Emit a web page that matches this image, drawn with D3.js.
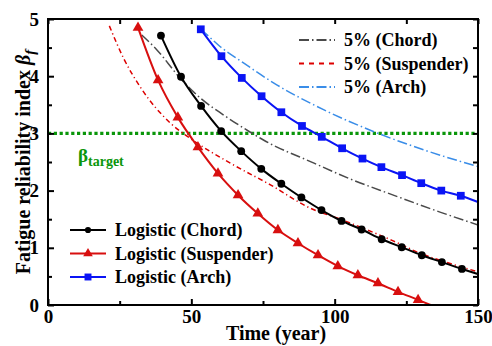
<!DOCTYPE html>
<html>
<head>
<meta charset="utf-8">
<script src="https://cdn.jsdelivr.net/npm/d3@7"></script>
<style>
  body { margin: 0; background: #fff; }
  text { font-family: "Liberation Serif", "Times New Roman", serif; font-weight: bold; }
</style>
</head>
<body>
<div id="chart"></div>
<script>
// logistic fits (markers)
var chordT = [39.4, 46.4, 53.4, 60.4, 67.4, 74.4, 81.4, 88.4, 95.4, 102.4, 109.4, 116.4, 123.4, 130.4, 137.4, 144.4, 150];
var chordB = [4.71, 3.99, 3.48, 3.04, 2.69, 2.38, 2.12, 1.88, 1.66, 1.47, 1.32, 1.15, 1.01, 0.87, 0.75, 0.63, 0.54];
var suspT = [31.4, 38.4, 45.3, 52.3, 59.3, 66.3, 73.2, 80.2, 87.2, 94.2, 101.1, 108.1, 115.1, 122.1, 129.1, 133.5];
var suspB = [4.85, 3.93, 3.28, 2.76, 2.30, 1.92, 1.60, 1.31, 1.08, 0.87, 0.68, 0.52, 0.38, 0.23, 0.09, 0];
var archT = [53.3, 60.5, 67.6, 74.5, 81.4, 88.6, 95.5, 102.6, 109.7, 116.3, 123.5, 130.2, 137.2, 144, 150];
var archB = [4.82, 4.35, 3.97, 3.65, 3.37, 3.13, 2.94, 2.74, 2.56, 2.41, 2.27, 2.13, 2.00, 1.91, 1.80];
// markers are not drawn on the last point of each line
var chordMarks = 16, suspMarks = 15, archMarks = 14;

// 5% curves
var c5T = [32.7, 38, 46.2, 53.1, 61.3, 70.6, 75.3, 92.8, 105.6, 120, 137, 150];
var c5B = [4.72, 4.46, 3.96, 3.62, 3.32, 3.02, 2.88, 2.48, 2.20, 1.93, 1.62, 1.40];
var s5T = [21.4, 26.5, 32.2, 42.7, 49.7, 63.6, 77.6, 91.6, 102, 110, 120, 130, 140, 150];
var s5B = [4.88, 4.30, 3.81, 3.18, 2.91, 2.48, 2.10, 1.69, 1.50, 1.34, 1.13, 0.90, 0.73, 0.58];
var a5T = [53.3, 56, 60, 67.1, 78.8, 96.3, 113.7, 131.2, 150];
var a5B = [4.82, 4.70, 4.52, 4.27, 3.88, 3.41, 3.03, 2.71, 2.42];

var betaTarget = 3;
var xTicks = [0, 50, 100, 150], xMinor = [25, 75, 125];
var yTicks = [0, 1, 2, 3, 4, 5], yMinor = [0.5, 1.5, 2.5, 3.5, 4.5];

var W = 492, H = 346;
var margin = { top: 19, right: 14, bottom: 41, left: 48 },
    width = W - margin.left - margin.right,
    height = H - margin.top - margin.bottom;

var svg = d3.select("#chart").append("svg")
  .attr("width", W).attr("height", H)
  .append("g")
  .attr("transform", "translate(" + margin.left + "," + margin.top + ")");

var x = d3.scaleLinear().domain([0, 150]).range([0, width]);
var y = d3.scaleLinear().domain([0, 5]).range([height, 0]);

function pts(T, B) { return T.map(function (t, i) { return [t, B[i]]; }); }
var line = d3.line().x(function (d) { return x(d[0]); }).y(function (d) { return y(d[1]); })
  .curve(d3.curveMonotoneX);

// target line
svg.append("line")
  .attr("x1", 0).attr("x2", width)
  .attr("y1", y(betaTarget)).attr("y2", y(betaTarget))
  .style("stroke", "#0a960a").style("stroke-width", 3.2)
  .style("stroke-dasharray", "3.2,2.6");

var bt = svg.append("text").attr("x", 30).attr("y", 143)
  .style("fill", "#0a960a").style("font-size", "19px").text("β");
bt.append("tspan").attr("dy", 4).style("font-size", "14px").text("target");

// 5% curves
var dashed = [
  { p: pts(c5T, c5B), color: "#4a4a4a", dash: "10,3,1.5,3" },
  { p: pts(s5T, s5B), color: "#dd0000", dash: "5,3,1.2,3" },
  { p: pts(a5T, a5B), color: "#3a8de8", dash: "10,3,1.5,3" }
];
dashed.forEach(function (s) {
  svg.append("path").attr("d", line(s.p))
    .style("fill", "none").style("stroke", s.color).style("stroke-width", 1.5)
    .style("stroke-dasharray", s.dash);
});

// logistic curves
var solid = [
  { p: pts(chordT, chordB), n: chordMarks, color: "#000000", sym: d3.symbolCircle, size: 48 },
  { p: pts(suspT, suspB), n: suspMarks, color: "#d80f0f", sym: d3.symbolTriangle, size: 50 },
  { p: pts(archT, archB), n: archMarks, color: "#0a14f5", sym: d3.symbolSquare, size: 60 }
];
solid.forEach(function (s) {
  svg.append("path").attr("d", line(s.p))
    .style("fill", "none").style("stroke", s.color).style("stroke-width", 2);
  svg.append("g").selectAll("path")
    .data(s.p.slice(0, s.n))
    .enter().append("path")
    .attr("transform", function (d) { return "translate(" + x(d[0]) + "," + y(d[1]) + ")"; })
    .attr("d", d3.symbol().type(s.sym).size(s.size))
    .style("fill", s.color);
});

// axes, ticks pointing inward
function styleAxis(g) {
  g.select(".domain").remove();
  g.selectAll("line").style("stroke", "#000").style("stroke-width", 2);
  g.selectAll("text").style("font-size", "19px").style("fill", "#000")
    .style("font-family", "Liberation Serif, serif").style("font-weight", "bold");
}
svg.append("g").attr("transform", "translate(0," + height + ")")
  .call(d3.axisBottom(x).tickValues(xTicks).tickSize(-6).tickPadding(5).tickFormat(d3.format("d"))).call(styleAxis);
svg.append("g").attr("transform", "translate(0," + height + ")")
  .call(d3.axisBottom(x).tickValues(xMinor).tickSize(-4).tickFormat("")).call(styleAxis);
svg.append("g")
  .call(d3.axisTop(x).tickValues(xTicks.concat(xMinor)).tickSize(-5).tickFormat("")).call(styleAxis);
svg.append("g")
  .call(d3.axisLeft(y).tickValues(yTicks).tickSize(-6).tickPadding(9).tickFormat(d3.format("d"))).call(styleAxis);
svg.append("g")
  .call(d3.axisLeft(y).tickValues(yMinor).tickSize(-4).tickFormat("")).call(styleAxis);
svg.append("g").attr("transform", "translate(" + width + ",0)")
  .call(d3.axisRight(y).tickValues(yTicks.concat(yMinor)).tickSize(-5).tickFormat("")).call(styleAxis);

svg.append("rect").attr("width", width).attr("height", height)
  .style("fill", "none").style("stroke", "#000").style("stroke-width", 2);

// axis titles
svg.append("text").attr("x", 228).attr("y", height + 35)
  .attr("text-anchor", "middle").style("font-size", "20px").text("Time (year)");
var yt = svg.append("text")
  .attr("transform", "translate(-18," + (height / 2) + ") rotate(-90)")
  .attr("text-anchor", "middle").style("font-size", "20px").text("Fatigue reliability index ");
yt.append("tspan").style("font-style", "italic").text("β");
yt.append("tspan").attr("dy", 5).style("font-style", "italic").style("font-size", "15px").text("f");

// legends
var legTop = [
  { name: "5% (Chord)", color: "#4a4a4a", dash: "10,3,1.5,3" },
  { name: "5% (Suspender)", color: "#dd0000", dash: "5,5" },
  { name: "5% (Arch)", color: "#3a8de8", dash: "10,3,1.5,3" }
];
legTop.forEach(function (d, i) {
  var g = svg.append("g").attr("transform", "translate(251," + (21 + i * 23.5) + ")");
  g.append("line").attr("x1", 0).attr("x2", 36)
    .style("stroke", d.color).style("stroke-width", 2).style("stroke-dasharray", d.dash);
  g.append("text").attr("x", 45).attr("y", 6).style("font-size", "18px").text(d.name);
});

var legBot = [
  { name: "Logistic (Chord)", color: "#000000", sym: d3.symbolCircle, size: 30 },
  { name: "Logistic (Suspender)", color: "#d80f0f", sym: d3.symbolTriangle, size: 40 },
  { name: "Logistic (Arch)", color: "#0a14f5", sym: d3.symbolSquare, size: 48 }
];
legBot.forEach(function (d, i) {
  var g = svg.append("g").attr("transform", "translate(22," + (211 + i * 23.5) + ")");
  g.append("line").attr("x1", 0).attr("x2", 36)
    .style("stroke", d.color).style("stroke-width", 2);
  g.append("path").attr("transform", "translate(18,0)")
    .attr("d", d3.symbol().type(d.sym).size(d.size)).style("fill", d.color);
  g.append("text").attr("x", 45).attr("y", 6).style("font-size", "18px").text(d.name);
});
</script>
</body>
</html>
